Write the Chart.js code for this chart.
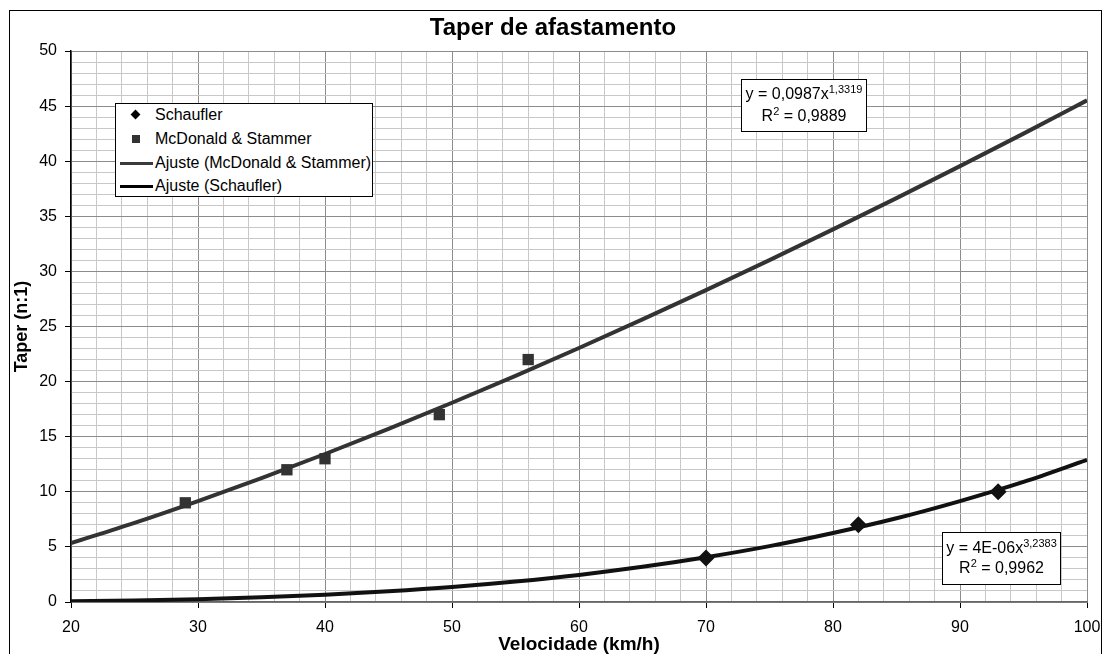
<!DOCTYPE html>
<html lang="pt">
<head>
<meta charset="utf-8">
<title>Taper de afastamento</title>
<script src="https://cdn.jsdelivr.net/npm/chart.js@4.4.1/dist/chart.umd.min.js"></script>
<style>
    body { margin: 0; background: #fff; }
    #wrap { position: relative; width: 1106px; height: 654px; overflow: hidden; font-family: Arial, "Liberation Sans", sans-serif; color: #000; }
    #frame { position: absolute; left: 9px; top: 10px; width: 1091px; height: 720px; border: 1px solid #000; pointer-events: none; }
    .box { position: absolute; background: #fff; border: 1px solid #000; }
    .legend { left: 115px; top: 103px; width: 256px; height: 92px; font-size: 16px; }
    .legend .row { position: absolute; left: 0; height: 20px; line-height: 20px; }
    .legend .row span.txt { position: absolute; left: 39px; white-space: nowrap; }
    .legend .mk { position: absolute; }
    .eq { font-size: 16px; text-align: center; }
    .eq div { position: absolute; left: 0; right: 0; line-height: 18px; white-space: nowrap; }
    .eq sup { font-size: 11px; vertical-align: 0; position: relative; top: -6px; }
</style>
</head>
<body>
<div id="wrap">
    <canvas id="taperChart" width="1106" height="654"></canvas>
    <div id="frame"></div>
    <div class="box legend" id="legend"></div>
    <div class="box eq" style="left:741px; top:79px; width:124px; height:51px;">
        <div style="top:5px;">y = 0,0987x<sup>1,3319</sup></div>
        <div style="top:27px;">R<sup>2</sup> = 0,9889</div>
    </div>
    <div class="box eq" style="left:942px; top:532px; width:117px; height:51px;">
        <div style="top:6px;">y = 4E-06x<sup>3,2383</sup></div>
        <div style="top:26px;">R<sup>2</sup> = 0,9962</div>
    </div>
</div>
<script>
// medições
const schauflerX = [70, 82, 93];
const schauflerY = [4, 7, 10];
const mcdonaldX = [29, 37, 40, 49, 56];
const mcdonaldY = [9, 12, 13, 17, 22];

// curvas de ajuste
const fitX = [20, 25, 30, 35, 40, 45, 50, 55, 60, 65, 70, 75, 80, 85, 90, 95, 100];
const fitMcdonald = [5.34, 7.18, 9.16, 11.24, 13.43, 15.71, 18.08, 20.52, 23.05, 25.64, 28.3, 31.02, 33.81, 36.65, 39.55, 42.5, 45.52];
const fitSchaufler = [0.07, 0.14, 0.26, 0.43, 0.66, 0.97, 1.36, 1.86, 2.46, 3.19, 4.06, 5.07, 6.26, 7.6, 9.16, 10.9, 12.9];

const legendLabels = ['Schaufler', 'McDonald & Stammer', 'Ajuste (McDonald & Stammer)', 'Ajuste (Schaufler)'];

const toPoints = (xs, ys) => xs.map((x, i) => ({ x, y: ys[i] }));

document.addEventListener('DOMContentLoaded', () => {
    const legend = document.getElementById('legend');
    const rowTops = [1, 25, 49, 72];
    legendLabels.forEach((label, i) => {
        const row = document.createElement('div');
        row.className = 'row';
        row.style.top = rowTops[i] + 'px';
        let marker = '';
        if (i === 0) {
            marker = '<span class="mk" style="left:16px; top:6px; width:7px; height:7px; background:#000; transform:rotate(45deg);"></span>';
        } else if (i === 1) {
            marker = '<span class="mk" style="left:16px; top:6px; width:8px; height:8px; background:#333;"></span>';
        } else {
            const c = i === 2 ? '#3a3a3a' : '#000';
            marker = `<span class="mk" style="left:4px; top:9px; width:33px; height:3px; background:${c};"></span>`;
        }
        row.innerHTML = marker + `<span class="txt">${label}</span>`;
        legend.appendChild(row);
    });

    const major = '#8c8c8c';
    const minor = '#c8c8c8';

    new Chart(document.getElementById('taperChart'), {
        type: 'scatter',
        data: {
            datasets: [
                {
                    label: legendLabels[0],
                    data: toPoints(schauflerX, schauflerY),
                    pointStyle: 'rectRot',
                    pointRadius: 8.5,
                    backgroundColor: '#111',
                    borderColor: '#111',
                    borderWidth: 0,
                    order: 0,
                },
                {
                    label: legendLabels[1],
                    data: toPoints(mcdonaldX, mcdonaldY),
                    pointStyle: 'rect',
                    pointRadius: 8,
                    backgroundColor: '#333',
                    borderColor: '#333',
                    borderWidth: 0,
                    order: 0,
                },
                {
                    label: legendLabels[2],
                    type: 'line',
                    data: toPoints(fitX, fitMcdonald),
                    borderColor: '#333',
                    borderWidth: 4,
                    pointRadius: 0,
                    cubicInterpolationMode: 'monotone',
                    order: 1,
                },
                {
                    label: legendLabels[3],
                    type: 'line',
                    data: toPoints(fitX, fitSchaufler),
                    borderColor: '#111',
                    borderWidth: 4,
                    pointRadius: 0,
                    cubicInterpolationMode: 'monotone',
                    order: 1,
                },
            ],
        },
        options: {
            responsive: false,
            animation: false,
            layout: { padding: 0 },
            plugins: {
                legend: { display: false },
                tooltip: { enabled: false },
                title: {
                    display: true,
                    text: 'Taper de afastamento',
                    color: '#000',
                    font: { family: 'Arial, "Liberation Sans"', size: 24, weight: 'bold', lineHeight: 1.2 },
                    padding: { top: 13.6, bottom: 8.6 },
                },
            },
            scales: {
                x: {
                    type: 'linear',
                    min: 20,
                    max: 100,
                    afterFit: (scale) => {
                        scale.height = 52;
                        scale.paddingLeft = 0;
                        scale.paddingRight = 19;
                    },
                    ticks: {
                        stepSize: 2,
                        autoSkip: false,
                        maxRotation: 0,
                        color: '#000',
                        padding: 10,
                        font: { family: 'Arial, "Liberation Sans"', size: 16 },
                        callback: (v) => (v % 10 === 0 ? v : ''),
                    },
                    grid: {
                        color: (ctx) => (ctx.tick && ctx.tick.value % 10 === 0 ? major : minor),
                        tickColor: (ctx) => (ctx.tick && ctx.tick.value % 10 === 0 ? '#000' : 'rgba(0,0,0,0)'),
                        tickLength: 6,
                        lineWidth: 1,
                    },
                    border: { color: '#666', width: 1.5 },
                    title: {
                        display: true,
                        text: 'Velocidade (km/h)',
                        color: '#000',
                        font: { family: 'Arial, "Liberation Sans"', size: 19, weight: 'bold', lineHeight: 1 },
                        padding: { top: 0, bottom: 0 },
                    },
                },
                y: {
                    min: 0,
                    max: 50,
                    afterFit: (scale) => { scale.width = 71; },
                    ticks: {
                        stepSize: 1,
                        autoSkip: false,
                        color: '#000',
                        padding: 8,
                        font: { family: 'Arial, "Liberation Sans"', size: 16 },
                        callback: (v) => (v % 5 === 0 ? v : ''),
                    },
                    grid: {
                        color: (ctx) => (ctx.tick && ctx.tick.value % 5 === 0 ? major : minor),
                        tickColor: (ctx) => (ctx.tick && ctx.tick.value % 5 === 0 ? '#000' : 'rgba(0,0,0,0)'),
                        tickLength: 6,
                        lineWidth: 1,
                    },
                    border: { color: '#000', width: 1.5 },
                    title: {
                        display: true,
                        text: 'Taper (n:1)',
                        color: '#000',
                        font: { family: 'Arial, "Liberation Sans"', size: 18, weight: 'bold', lineHeight: 1.2 },
                        padding: { top: 11, bottom: 0 },
                    },
                },
            },
        },
    });
});
</script>
</body>
</html>
